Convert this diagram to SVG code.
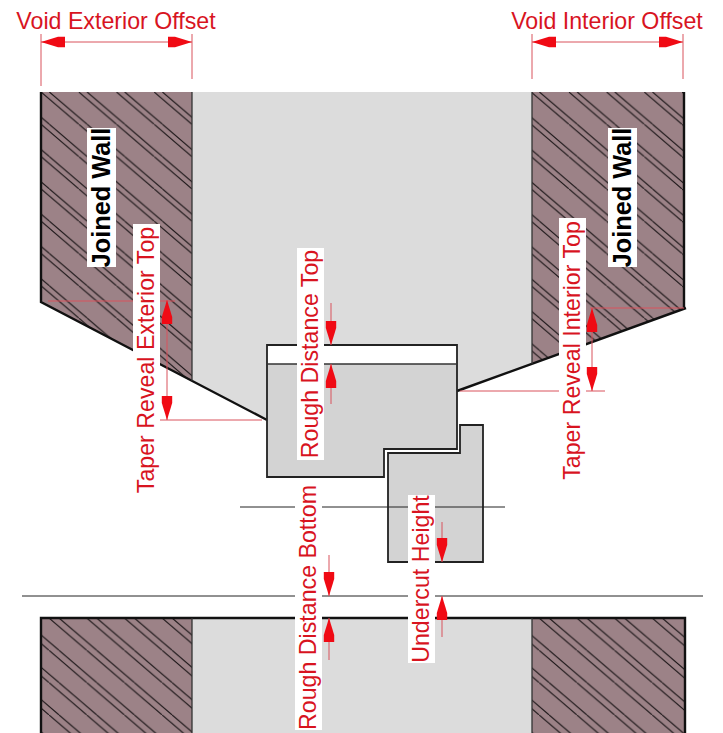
<svg xmlns="http://www.w3.org/2000/svg" width="723" height="733" viewBox="0 0 723 733">
<style>
.wall{fill:url(#hatch)}
.wall2{fill:url(#hatch2)}
.void{fill:#dcdcdc}
.body{fill:#d3d3d3}
.thick{fill:none;stroke:#111;stroke-width:2.4;stroke-linejoin:miter}
.med{fill:none;stroke:#222;stroke-width:1.8}
.thin{fill:none;stroke:#333;stroke-width:1.3}
.dim{fill:none;stroke:#d9525c;stroke-width:1}
.arr{fill:none;stroke:#d9525c;stroke-width:1;marker-end:url(#head)}
.both{fill:none;stroke:#d9525c;stroke-width:1;marker-end:url(#head);marker-start:url(#head)}
.bg{fill:#fff}
text{font-family:"Liberation Sans",Arial,sans-serif;font-size:23.2px;fill:#d8141f;text-anchor:middle}
text.b{font-weight:bold;font-size:25.3px;fill:#000}
</style>
<defs>
<pattern id="hatch" patternUnits="userSpaceOnUse" x="116.5" y="92" width="37.7" height="32.3">
<rect x="0" y="0" width="37.7" height="32.3" fill="#9c8287"/>
<path d="M0 0L37.7 32.3M8.3 0L46 32.3M-29.4 0L8.3 32.3" fill="none" stroke="#1c1618" stroke-width="1.1"/>
</pattern>
<pattern id="hatch2" patternUnits="userSpaceOnUse" x="49" y="618" width="37.7" height="32.3">
<rect x="0" y="0" width="37.7" height="32.3" fill="#9c8287"/>
<path d="M0 0L37.7 32.3M10 0L47.7 32.3M-27.7 0L10 32.3" fill="none" stroke="#1c1618" stroke-width="1.1"/>
</pattern>
<marker id="head" markerUnits="userSpaceOnUse" markerWidth="25" markerHeight="12" refX="24" refY="6" orient="auto-start-reverse">
<polygon points="0,0.8 7,0.8 24,6 7,11.2 0,11.2" fill="#f00a14"/>
</marker>
</defs>

<g id="void-top"><polygon class="void" points="192,92 532,92 532,364 457,391 457,345 267,345 267,420 192,381"/></g>
<g id="wall-left">
<polygon class="wall" points="41,92 192,92 192,381 41,302"/>
<path class="thick" d="M41 92V302L267 420"/>
<path class="thin" d="M192 92V381"/>
</g>
<g id="wall-right">
<polygon class="wall" points="532,92 684,92 684,308 532,364"/>
<path class="thick" d="M684 92V308M686 308L457 391"/>
<path class="thin" d="M532 92V364"/>
</g>
<g id="wall-bottom">
<rect class="void" x="192" y="618" width="340" height="115"/>
<rect class="wall2" x="41" y="618" width="151" height="115"/>
<rect class="wall2" x="532" y="618" width="152" height="115"/>
<path class="thick" d="M41 733V618H685V733"/>
<path class="thin" d="M192 618V733M532 618V733"/>
</g>
<g id="frame">
<rect x="267" y="345" width="190" height="19" fill="#fff"/>
<polygon class="body" points="267,364 457,364 457,449 384,449 384,477 267,477"/>
<path class="med" d="M267 477V345H457V449H384V477Z"/>
<path class="thin" d="M267 364H457"/>
</g>
<g id="sash">
<polygon class="body" points="388,453 460,453 460,425 483,425 483,562 388,562"/>
<path class="med" d="M388 562V453H460V425H483V562Z"/>
</g>
<g id="reference-lines">
<path d="M240 507H505" fill="none" stroke="#222" stroke-width="1"/>
<path d="M22 596H703" fill="none" stroke="#222" stroke-width="1"/>
</g>
<g id="connectors">
<path class="dim" d="M41 34V86M192 34V79M532 34V79M683 34V79"/>
<line class="both" x1="41" y1="42" x2="192" y2="42"/>
<line class="both" x1="532" y1="42" x2="683" y2="42"/>
<path class="dim" d="M48 301H175M160 420H262M590 308H684M460 391H605"/>
<line class="both" x1="167" y1="420" x2="167" y2="300"/>
<line class="both" x1="592" y1="391" x2="592" y2="308"/>
<line class="arr" x1="331" y1="303" x2="331" y2="345"/>
<line class="arr" x1="331" y1="404" x2="331" y2="364"/>
<line class="arr" x1="329" y1="555" x2="329" y2="596"/>
<line class="arr" x1="329" y1="660" x2="329" y2="618"/>
<line class="arr" x1="442" y1="522" x2="442" y2="562"/>
<line class="arr" x1="442" y1="637" x2="442" y2="596"/>
</g>
<g id="label-void-exterior"><text x="116" y="29">Void Exterior Offset</text></g>
<g id="label-void-interior"><text x="607" y="29">Void Interior Offset</text></g>
<g id="label-joined-left">
<rect class="bg" x="87" y="128" width="29" height="139"/>
<text class="b" transform="translate(110 197.5) rotate(-90)">Joined Wall</text>
</g>
<g id="label-joined-right">
<rect class="bg" x="608" y="128" width="29" height="139"/>
<text class="b" transform="translate(631 197.5) rotate(-90)">Joined Wall</text>
</g>
<g id="label-taper-exterior">
<rect class="bg" x="133" y="224" width="27" height="272"/>
<text transform="translate(154 360) rotate(-90)">Taper Reveal Exterior Top</text>
</g>
<g id="label-taper-interior">
<rect class="bg" x="559" y="218" width="27" height="265"/>
<text transform="translate(580 350.5) rotate(-90)">Taper Reveal Interior Top</text>
</g>
<g id="label-rough-top">
<rect class="bg" x="297" y="248" width="27" height="212"/>
<text transform="translate(318 354) rotate(-90)">Rough Distance Top</text>
</g>
<g id="label-rough-bottom">
<rect class="bg" x="295" y="485" width="27" height="245"/>
<text transform="translate(316 607.5) rotate(-90)">Rough Distance Bottom</text>
</g>
<g id="label-undercut">
<rect class="bg" x="408" y="495" width="27" height="168"/>
<text transform="translate(429 579) rotate(-90)">Undercut Height</text>
</g>
</svg>
